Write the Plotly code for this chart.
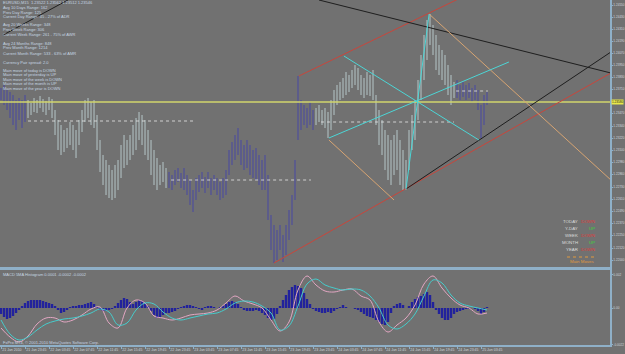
import plotly.graph_objects as go

W, H = 625, 354
FONT = "Liberation Sans"

# ---------------- data ----------------
price_high = [1.2372, 1.2375, 1.2370, 1.2368, 1.2365, 1.2360, 1.2362, 1.2360, 1.2365,
              1.2360, 1.2357, 1.2362, 1.2360, 1.2364, 1.2361, 1.2359, 1.2363, 1.2361,
              1.2350, 1.2340, 1.2335, 1.2330, 1.2332, 1.2338, 1.2335, 1.2330, 1.2340, 1.2350,
              1.2360, 1.2362, 1.2358, 1.2360, 1.2345, 1.2320, 1.2305, 1.2300, 1.2295, 1.2290,
              1.2295, 1.2300, 1.2315, 1.2325, 1.2320, 1.2325, 1.2335, 1.2342, 1.2348, 1.2345,
              1.2340, 1.2330, 1.2320, 1.2310, 1.2302, 1.2295, 1.2298, 1.2292,
              1.2288, 1.2285, 1.2290, 1.2292, 1.2287, 1.2292, 1.2285, 1.2280, 1.2270, 1.2282,
              1.2285, 1.2288, 1.2283, 1.2288, 1.2282, 1.2285, 1.2282, 1.2278, 1.2282, 1.2290,
              1.2310, 1.2318, 1.2325, 1.2332, 1.2320, 1.2315, 1.2320, 1.2315, 1.2310, 1.2312,
              1.2305, 1.2300, 1.2305, 1.2285, 1.2245, 1.2235, 1.2230, 1.2235, 1.2225, 1.2235,
              1.2250, 1.2265, 1.2300, 1.2384, 1.2360, 1.2355, 1.2352, 1.2358, 1.2350,
              1.2352, 1.2355, 1.2350, 1.2352, 1.2348, 1.2360, 1.2370, 1.2375, 1.2378, 1.2382,
              1.2388, 1.2385, 1.2390, 1.2395, 1.2392, 1.2385, 1.2382, 1.2388, 1.2385, 1.2390,
              1.2365, 1.2350, 1.2340, 1.2330, 1.2325, 1.2320, 1.2325, 1.2330, 1.2320, 1.2310,
              1.2300, 1.2330, 1.2345, 1.2360, 1.2380, 1.2405, 1.2425, 1.2440, 1.2446, 1.2435,
              1.2425, 1.2415, 1.2410, 1.2405, 1.2395, 1.2385, 1.2378,
              1.2380, 1.2375, 1.2378, 1.2375, 1.2377, 1.2372, 1.2375, 1.2370, 1.2355, 1.2365, 1.2368]

price_low = [1.2360, 1.2355, 1.2350, 1.2342, 1.2335, 1.2330, 1.2340, 1.2332, 1.2338,
             1.2342, 1.2345, 1.2348, 1.2347, 1.2352, 1.2348, 1.2345, 1.2350, 1.2342,
             1.2325, 1.2310, 1.2305, 1.2308, 1.2312, 1.2315, 1.2310, 1.2302, 1.2315, 1.2328,
             1.2338, 1.2342, 1.2335, 1.2332, 1.2310, 1.2288, 1.2275, 1.2265, 1.2262, 1.2260,
             1.2262, 1.2270, 1.2282, 1.2292, 1.2295, 1.2300, 1.2305, 1.2310, 1.2320, 1.2315,
             1.2305, 1.2300, 1.2285, 1.2275, 1.2270, 1.2275, 1.2278, 1.2272,
             1.2272, 1.2270, 1.2275, 1.2278, 1.2272, 1.2270, 1.2265, 1.2255, 1.2248, 1.2260,
             1.2268, 1.2272, 1.2267, 1.2272, 1.2265, 1.2270, 1.2265, 1.2260, 1.2262, 1.2265,
             1.2285, 1.2295, 1.2300, 1.2305, 1.2295, 1.2290, 1.2292, 1.2285, 1.2282, 1.2280,
             1.2275, 1.2270, 1.2270, 1.2240, 1.2210, 1.2197, 1.2200, 1.2210, 1.2198, 1.2205,
             1.2220, 1.2235, 1.2260, 1.2320, 1.2330, 1.2335, 1.2332, 1.2335, 1.2330,
             1.2335, 1.2338, 1.2335, 1.2332, 1.2322, 1.2330, 1.2345, 1.2355, 1.2360, 1.2362,
             1.2365, 1.2368, 1.2372, 1.2375, 1.2370, 1.2365, 1.2362, 1.2365, 1.2364, 1.2360,
             1.2335, 1.2315, 1.2305, 1.2290, 1.2280, 1.2275, 1.2285, 1.2290, 1.2275, 1.2270,
             1.2270, 1.2290, 1.2310, 1.2320, 1.2340, 1.2360, 1.2380, 1.2400, 1.2415, 1.2405,
             1.2390, 1.2385, 1.2380, 1.2375, 1.2365, 1.2355, 1.2362,
             1.2362, 1.2360, 1.2363, 1.2360, 1.2362, 1.2358, 1.2360, 1.2350, 1.2322, 1.2335, 1.2355]

# bar colouring runs (trend state, number of bars)
trend_runs = [("dn", 9), ("up", 47), ("dn", 49), ("up", 47), ("dn", 11)]

osma_hist = [-0.00036, -0.00054, -0.00066, -0.0006, -0.00048, -0.0003, -0.00012, 0.00012, 0.0003,
             0.00042, 0.00048, 0.00048, 0.00048, 0.00048, 0.00042, 0.00036, 0.0003, 0.00024,
             0.00012, -0.00012, -0.0003, -0.00024, -0.00012, 0.00006, 0.00012, 0.00012, 0.00018, 0.00018,
             0.00024, 0.0003, 0.00036, 0.00024, 0.00006, -0.00012, -0.00018, -0.00018, -0.00012, -0.00006,
             0.00012, 0.0003, 0.00048, 0.0006, 0.00054, 0.00036, 0.00024, 0.00036, 0.00048, 0.00042,
             0.0003, 0.00012, -0.00018, -0.00042, -0.0006, -0.00054, -0.00042, -0.0003,
             -0.0003, -0.00024, -0.00018, -0.00006, 0.00006, 0.00012, 0.00018, 0.00018, 0.00012, 0.00006,
             -0.00006, -0.00012, 0.00006, 0.00012, 0.00012, 0.00006, 0.0, 0.00006, 0.00012, 0.00024,
             0.00036, 0.00042, 0.00036, 0.00024, 0.00006, -0.00012, -0.00018, -0.00018, -0.00018, -0.00012,
             -0.00018, -0.0003, -0.00042, -0.0006, -0.00072, -0.00066, -0.00036, 0.00012, 0.00048, 0.00078,
             0.00108, 0.00126, 0.00138, 0.00132, 0.0012, 0.0009, 0.00054, 0.00024, -0.00006,
             -0.00018, -0.00024, -0.0003, -0.0003, -0.00024, -0.0003, -0.00018, -0.00006, 0.00006, 0.00018,
             0.00006, 0.0, 0.0, -0.00006, -0.00012, -0.00024, -0.00036, -0.00048, -0.00054, -0.0006,
             -0.00072, -0.00084, -0.00096, -0.00102, -0.00084, -0.0003, 0.00012, 0.00024, 0.0003, 0.00018,
             0.0, 0.00012, 0.00036, 0.00054, 0.00066, 0.00072, 0.00084, 0.00096, 0.00078, 0.00036,
             -0.00012, -0.00036, -0.0006, -0.00072, -0.00072, -0.0006, -0.00036,
             -0.00024, -0.00018, -0.00012, -0.00006, -0.00006, 0.0, -0.00006, -0.00018, -0.00036, -0.00024, 0.00006]

macd_step = 3  # MACD lines read every third bar
macd_main = [-0.0012, -0.00174, -0.00204, -0.00168, -0.00096, -0.0006, -0.0006, -0.00084, -0.00072,
             -0.00042, -0.00006, 0.00006, -0.0009, -0.0012, 0.0, 0.00048, 0.0003, -0.00048,
             -0.0006, -0.00072, -0.0006, -0.00042, -0.00036, -0.0003, -0.00012, 0.0003, 0.00072,
             0.00042, 0.00024, 0.0, -0.00072, -0.00138, -0.00084, 0.00108, 0.00192, 0.00138,
             0.00102, 0.00096, 0.00108, 0.00114, 0.00072, 0.00048, -0.00084, -0.00144, -0.00102,
             -0.0006, 0.00018, 0.00144, 0.00192, 0.0012, 0.0006, 0.00018, 0.0, -0.00036, -0.0003]
macd_signal = [-0.00072, -0.00156, -0.00192, -0.00174, -0.00132, -0.00096, -0.00078, -0.00066, -0.0006,
               -0.00048, -0.0003, -0.00006, -0.00024, -0.00102, -0.0009, -0.00012, 0.0003, 0.00024,
               -0.00024, -0.0006, -0.00072, -0.0006, -0.00048, -0.00036, -0.0003, -0.00006, 0.0003,
               0.00042, 0.00036, 0.00012, -0.0003, -0.00132, -0.00108, 0.00012, 0.00144, 0.00174,
               0.00138, 0.0012, 0.00108, 0.00114, 0.00108, 0.00072, 0.0, -0.00102, -0.00126,
               -0.00096, -0.00036, 0.00072, 0.00168, 0.0015, 0.00078, 0.0003, 0.00012, 0.0, -0.00012]

time_labels = ["21 Jun 2010", "21 Jun 23:45", "22 Jun 03:45", "22 Jun 07:45", "22 Jun 11:45",
               "22 Jun 15:45", "22 Jun 19:45", "22 Jun 23:45", "23 Jun 03:45", "23 Jun 07:45",
               "23 Jun 11:45", "23 Jun 15:45", "23 Jun 19:45", "23 Jun 23:45", "24 Jun 03:45",
               "24 Jun 07:45", "24 Jun 11:45", "24 Jun 15:45", "24 Jun 19:45", "24 Jun 23:45",
               "25 Jun 03:45"]
bars_per_label = 8

price_ticks = [1.2455, 1.2443, 1.2431, 1.2419, 1.2407, 1.2395, 1.2383, 1.2371, 1.2347,
               1.2334, 1.2322, 1.2310, 1.2298, 1.2286, 1.2273, 1.2261, 1.2249, 1.2237, 1.2225,
               1.2212, 1.2200]
macd_ticks = [0.002, 0.0, -0.0022]
macd_tick_text = ["0.002", "0.00", "-0.0022"]

current_level = 1.2358

# drawn objects (bar index, price)
red_channel_low = ([91, 203.3], [1.2197, 1.2387])
red_channel_high = ([99.3, 160], [1.2384, 1.2472])
black_line_high = ([106, 203.3], [1.2460, 1.2387])
black_line_low = ([135, 203.3], [1.2271, 1.2408])
black_line_corner = ([0.7, 22.3], [1.2425, 1.2460])
orange_line_right = ([142.7, 203.3], [1.2446, 1.2280])
orange_line_left = ([109.3, 131], [1.2320, 1.2260])
cyan_line_a = ([114.3, 159.3], [1.2404, 1.2320])
cyan_line_b = ([109.3, 169.3], [1.2322, 1.2398])
cyan_line_d = ([135, 142.7], [1.2271, 1.2446])
dotted_levels = [([9, 65], 1.2339), ([56.7, 103.3], 1.2280), ([106.7, 151], 1.2338), ([151.7, 162.3], 1.2369)]

info_lines = [
    ("EURUSD,M15  1.23522 1.23562 1.23512 1.23546", 3),
    ("Avg 10 Days Range: 162", 7.5),
    ("Prev Day Range: 125", 12),
    ("Current Day Range: 45 - 27% of ADR", 16.5),
    ("Avg 20 Weeks Range: 348", 25),
    ("Prev Week Range: 306", 29.5),
    ("Current Week Range: 261 - 75% of AWR", 34),
    ("Avg 24 Months Range: 848", 43),
    ("Prev Month Range: 1214", 48),
    ("Current Month Range: 533 - 63% of AMR", 53),
    ("Currency Pair spread: 2.0", 62),
    ("Main move of today is DOWN", 70),
    ("Main move of yesterday is UP", 74.5),
    ("Main move of the week is DOWN", 79),
    ("Main move of the month is UP", 83.5),
    ("Main move of the year is DOWN", 88),
]
moves = [("TODAY", "DOWN"), ("Y-DAY", "UP"), ("WEEK", "DOWN"), ("MONTH", "UP"), ("YEAR", "DOWN")]

# ---------------- styling ----------------
BG = "#717171"
AXIS = "#8fb0c8"
TXT = "#cfd6dc"
BLUE_BAR = "#4848a4"
LIGHT_BAR = "#b6c7c9"

XPLOT = 610 / W
n = len(price_high)

fig = go.Figure()

# price bars
colors = []
for state, cnt in trend_runs:
    colors += [state] * cnt
for state, col in (("dn", BLUE_BAR), ("up", LIGHT_BAR)):
    xs, ys = [], []
    for i in range(n):
        if colors[i] == state:
            xs += [i, i, None]
            ys += [price_low[i], price_high[i], None]
    fig.add_trace(go.Scatter(x=xs, y=ys, mode="lines", line=dict(color=col, width=1),
                             hoverinfo="skip", showlegend=False))

# horizontal levels
fig.add_trace(go.Scatter(x=[-1, 204], y=[current_level, current_level], mode="lines",
                         line=dict(color="#d2d66c", width=1.5), showlegend=False))
for xr, lvl in dotted_levels:
    fig.add_trace(go.Scatter(x=xr, y=[lvl, lvl], mode="lines",
                             line=dict(color="#e8e8e8", width=0.8, dash="dot"), showlegend=False))

# trend lines
for (lx, ly), col in [(red_channel_low, "#c8463c"), (red_channel_high, "#c8463c"),
                      (black_line_high, "#1e1e1e"), (black_line_low, "#1e1e1e"),
                      (black_line_corner, "#1e1e1e"),
                      (orange_line_right, "#d7a472"), (orange_line_left, "#d7a472"),
                      (cyan_line_a, "#4cd6d6"), (cyan_line_b, "#4cd6d6"), (cyan_line_d, "#4cd6d6")]:
    fig.add_trace(go.Scatter(x=lx, y=ly, mode="lines", line=dict(color=col, width=1),
                             showlegend=False))

# MACD window
fig.add_trace(go.Bar(x=list(range(n)), y=osma_hist, xaxis="x2", yaxis="y2",
                     marker=dict(color="#22229c", line=dict(width=0)), width=0.8, showlegend=False))
macd_x = list(range(0, n, macd_step))
fig.add_trace(go.Scatter(x=macd_x, y=macd_main, xaxis="x2", yaxis="y2", mode="lines",
                         line=dict(color="#e2a6c2", width=1, shape="spline"), showlegend=False))
fig.add_trace(go.Scatter(x=macd_x, y=macd_signal, xaxis="x2", yaxis="y2", mode="lines",
                         line=dict(color="#46cccc", width=1, shape="spline"), showlegend=False))

main_dom = [1 - 267 / H, 1.0]
macd_dom = [9 / H, 1 - 270 / H]

fig.update_layout(
    width=W, height=H, margin=dict(l=0, r=0, t=0, b=0),
    paper_bgcolor=BG, plot_bgcolor=BG, template="none", showlegend=False,
    font=dict(family=FONT, size=4, color=TXT),
    xaxis=dict(domain=[0, XPLOT], range=[-0.34, 203.0], showgrid=False, zeroline=False,
               showticklabels=False, ticks="", showline=True, linecolor=AXIS, linewidth=2,
               mirror=True, automargin=False, fixedrange=True),
    yaxis=dict(domain=main_dom, range=[1.2193, 1.2460], side="right", showgrid=False,
               zeroline=False, showline=True, linecolor=AXIS, linewidth=1.5, ticks="outside",
               ticklen=1, tickcolor=AXIS, tickvals=price_ticks,
               ticktext=[f"{v:.5f}" for v in price_ticks],
               tickfont=dict(size=3.1, color=TXT, family=FONT), automargin=False),
    xaxis2=dict(domain=[0, XPLOT], anchor="y2", matches="x", showgrid=False, zeroline=False,
                showline=True, linecolor=AXIS, linewidth=1.5, mirror=True, ticks="outside",
                ticklen=2, tickcolor=AXIS, tickangle=0,
                tickvals=[k * bars_per_label for k in range(len(time_labels))],
                ticktext=time_labels, ticklabelposition="outside right",
                tickfont=dict(size=3.5, color=TXT, family=FONT), automargin=False),
    yaxis2=dict(domain=macd_dom, anchor="x2", range=[-0.00222, 0.00228], side="right",
                showgrid=False, zeroline=False, showline=True, linecolor=AXIS, linewidth=1.5,
                ticks="outside", ticklen=1, tickcolor=AXIS, tickvals=macd_ticks,
                ticktext=macd_tick_text, tickfont=dict(size=3.1, color=TXT, family=FONT),
                automargin=False),
)


def ann(text, xpx, ypx, color, size=4, xanchor="left", bg=None):
    d = dict(text=text, x=xpx / W, y=1 - ypx / H, xref="paper", yref="paper",
             xanchor=xanchor, yanchor="middle", showarrow=False, borderpad=0,
             font=dict(size=size, color=color, family=FONT))
    if bg:
        d["bgcolor"] = bg
    return d


anns = []
for t, ypx in info_lines:
    anns.append(ann(t, 2, ypx, "#c6d6e2"))
for k, (lab, val) in enumerate(moves):
    ypx = 221 + k * 7.2
    anns.append(ann(lab, 579, ypx, "#dcdcdc", size=4.4, xanchor="right"))
    anns.append(ann(val, 596, ypx, "#e03a3a" if val == "DOWN" else "#3ad23a", size=4.4,
                    xanchor="right"))
anns.append(ann("Main Moves", 582, 261, "#e09a40", size=4.4, xanchor="center"))
anns.append(ann("MACD 5MA Histogram 0.0001 -0.0002 -0.0002", 2, 274, "#c6d6e2"))
anns.append(ann("FxPro MT4, © 2001-2010 MetaQuotes Software Corp.", 2, 342, "#c6d6e2"))
# current price tag on the axis
anns.append(dict(text=f"{current_level:.5f}", x=XPLOT + 1 / W, y=current_level, xref="paper",
                 yref="y", xanchor="left", yanchor="middle", showarrow=False, bgcolor="#e8e84a",
                 borderpad=0, font=dict(size=3.1, color="#202020", family=FONT)))
fig.update_layout(annotations=anns)

fig.add_shape(type="line", xref="paper", yref="paper", x0=567 / W, x1=596 / W,
              y0=1 - 257 / H, y1=1 - 257 / H, line=dict(color="#e09a40", width=1, dash="dot"))

fig.write_html("out.html")
